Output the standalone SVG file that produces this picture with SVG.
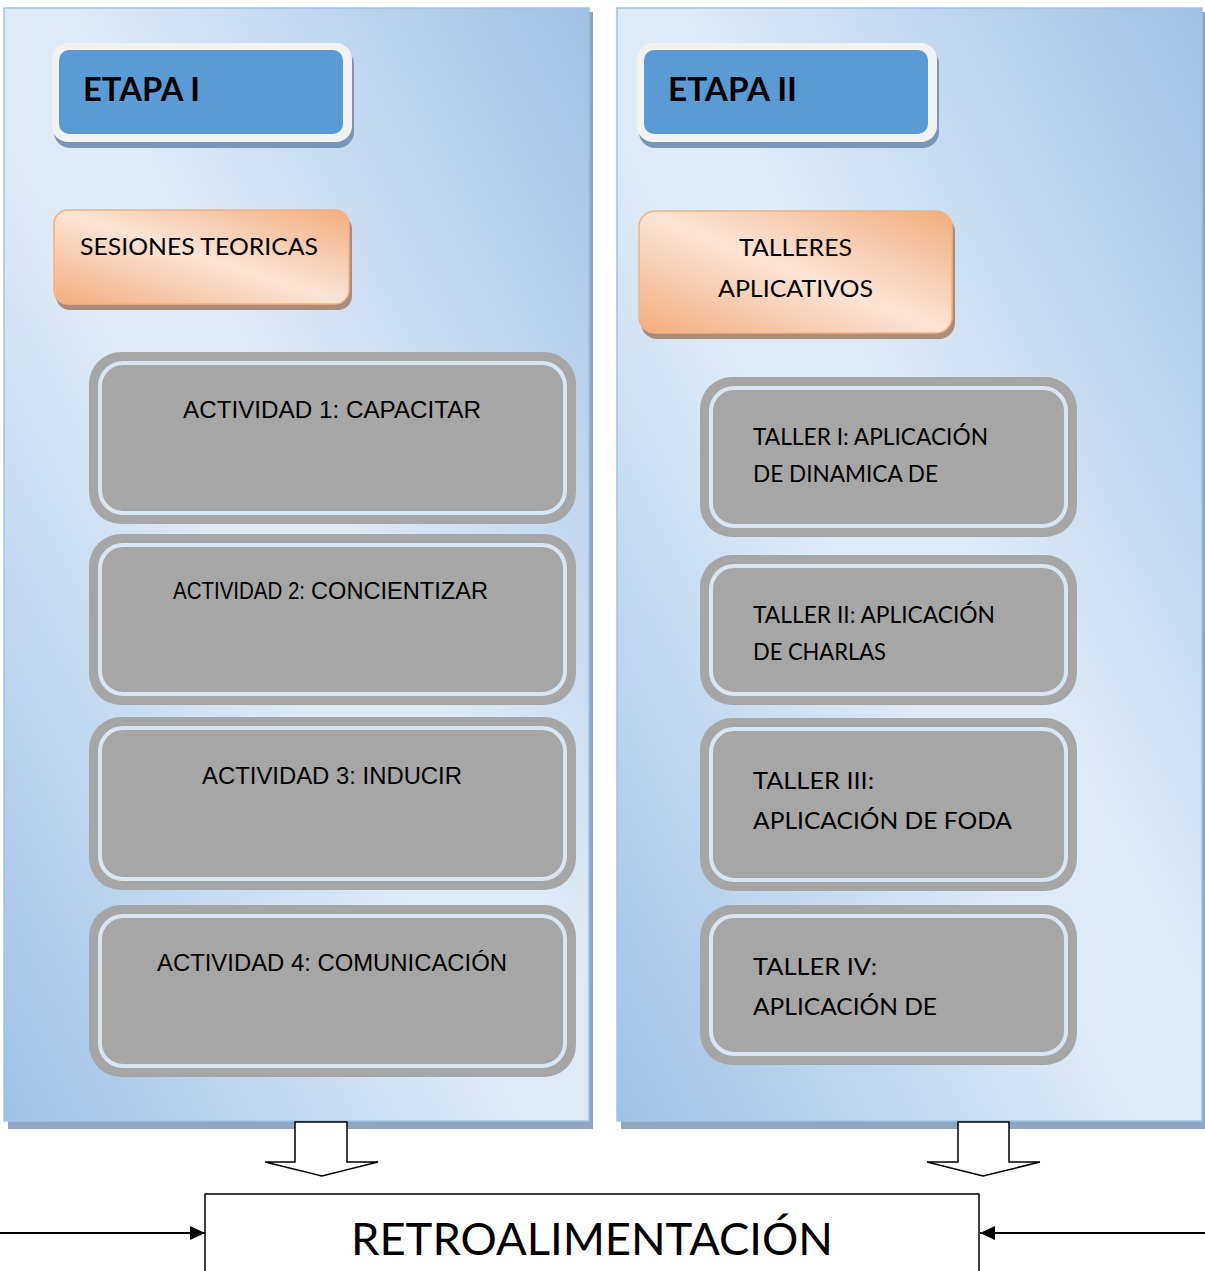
<svg xmlns="http://www.w3.org/2000/svg" width="1205" height="1271" viewBox="0 0 1205 1271">
<defs>
  <linearGradient id="panelGrad" x1="0" y1="1" x2="1" y2="0">
    <stop offset="0" stop-color="#9fc1e6"/>
    <stop offset="0.44" stop-color="#deeaf6"/>
    <stop offset="0.56" stop-color="#deeaf6"/>
    <stop offset="1" stop-color="#9fc1e6"/>
  </linearGradient>
  <linearGradient id="orangeGrad" x1="0" y1="1" x2="1" y2="0">
    <stop offset="0" stop-color="#f3ad7d"/>
    <stop offset="0.5" stop-color="#fbe4d5"/>
    <stop offset="1" stop-color="#f3ad7d"/>
  </linearGradient>
  <marker id="arrowHead" markerWidth="16" markerHeight="14" refX="15" refY="7" orient="auto" markerUnits="userSpaceOnUse">
    <path d="M0,0 L15,7 L0,14 Z" fill="#000"/>
  </marker>
</defs>
<style>
  .panel { fill: url(#panelGrad); stroke: #9dc3e6; stroke-width: 1.5; }
  .panelShadow { fill: #8ea6c2; }
  .etapaShadow { fill: #7a96b6; }
  .etapaOuter { fill: #f2f2f2; }
  .etapaInner { fill: #5b9bd5; }
  .etapaText { font-family: "Lato", "Liberation Sans", sans-serif; font-weight: bold; font-size: 32px; fill: #000; }
  .orangeShadow { fill: #a88c7c; }
  .orangeBox { fill: url(#orangeGrad); stroke: #f4b183; stroke-width: 1.5; }
  .calibri { font-family: "Lato", "Liberation Sans", sans-serif; font-size: 24px; fill: #000; }
  .taller { font-family: "Lato", "Liberation Sans", sans-serif; font-size: 23px; fill: #000; }
  .grayOuter { fill: #a6a6a6; }
  .grayLine { fill: none; stroke: #d8e6f4; stroke-width: 4; }
  .arial { font-family: "Liberation Sans", Arial, sans-serif; font-size: 23px; fill: #000; }
  .hollow { fill: #fff; stroke: #000; stroke-width: 1.5; }
  .conn { stroke: #000; stroke-width: 2; fill: none; }
  .retroBox { fill: #fff; stroke: #000; stroke-width: 1.5; }
  .retroText { font-family: "Lato", "Liberation Sans", sans-serif; font-size: 44px; fill: #000; }
</style>

<g id="panel-etapa-1">
  <rect class="panelShadow" x="8" y="12" width="585" height="1117"/>
  <rect class="panel" x="4" y="8" width="585" height="1113"/>
</g>
<g id="panel-etapa-2">
  <rect class="panelShadow" x="621" y="12" width="584" height="1117"/>
  <rect class="panel" x="617" y="8" width="585" height="1113"/>
</g>

<g id="etapa-1">
  <rect class="etapaShadow" x="54" y="48" width="300" height="100" rx="16"/>
  <rect class="etapaOuter" x="52" y="43" width="300" height="99" rx="16"/>
  <rect class="etapaInner" x="59" y="50" width="284" height="84" rx="10"/>
  <text class="etapaText" x="83" y="101" textLength="117" lengthAdjust="spacingAndGlyphs">ETAPA I</text>
</g>
<g id="etapa-2">
  <rect class="etapaShadow" x="639" y="48" width="300" height="100" rx="16"/>
  <rect class="etapaOuter" x="637" y="43" width="300" height="99" rx="16"/>
  <rect class="etapaInner" x="644" y="50" width="284" height="84" rx="10"/>
  <text class="etapaText" x="668" y="101" textLength="129" lengthAdjust="spacingAndGlyphs">ETAPA II</text>
</g>

<g id="sesiones-teoricas">
  <rect class="orangeShadow" x="56" y="215" width="296" height="95" rx="14"/>
  <rect class="orangeBox" x="54" y="210" width="295" height="94" rx="14"/>
  <text class="calibri" x="80" y="255" textLength="238" lengthAdjust="spacingAndGlyphs">SESIONES TEORICAS</text>
</g>
<g id="talleres-aplicativos">
  <rect class="orangeShadow" x="641" y="216" width="314" height="123" rx="16"/>
  <rect class="orangeBox" x="639" y="211" width="313" height="122" rx="16"/>
  <text class="calibri" x="739" y="256" textLength="113" lengthAdjust="spacingAndGlyphs">TALLERES</text>
  <text class="calibri" x="718" y="297" textLength="155" lengthAdjust="spacingAndGlyphs">APLICATIVOS</text>
</g>

<g id="actividad-1">
  <rect class="grayOuter" x="89" y="352" width="487" height="172" rx="32"/>
  <rect class="grayLine" x="100" y="363" width="465" height="150" rx="23"/>
  <text class="arial" x="183" y="418" textLength="298" lengthAdjust="spacingAndGlyphs">ACTIVIDAD 1: CAPACITAR</text>
</g>
<g id="actividad-2">
  <rect class="grayOuter" x="89" y="534" width="487" height="171" rx="32"/>
  <rect class="grayLine" x="100" y="545" width="465" height="149" rx="23"/>
  <text class="arial" x="173" y="599" font-size="19" textLength="132" lengthAdjust="spacingAndGlyphs">ACTIVIDAD 2:</text>
  <text class="arial" x="311" y="599" textLength="177" lengthAdjust="spacingAndGlyphs">CONCIENTIZAR</text>
</g>
<g id="actividad-3">
  <rect class="grayOuter" x="89" y="717" width="487" height="173" rx="32"/>
  <rect class="grayLine" x="100" y="728" width="465" height="151" rx="23"/>
  <text class="arial" x="202" y="784" textLength="260" lengthAdjust="spacingAndGlyphs">ACTIVIDAD 3: INDUCIR</text>
</g>
<g id="actividad-4">
  <rect class="grayOuter" x="89" y="905" width="487" height="172" rx="32"/>
  <rect class="grayLine" x="100" y="916" width="465" height="150" rx="23"/>
  <text class="arial" x="157" y="971" textLength="350" lengthAdjust="spacingAndGlyphs">ACTIVIDAD 4: COMUNICACIÓN</text>
</g>

<g id="taller-1">
  <rect class="grayOuter" x="700" y="377" width="377" height="160" rx="32"/>
  <rect class="grayLine" x="711" y="388" width="355" height="138" rx="23"/>
  <text class="taller" x="753" y="445" textLength="235" lengthAdjust="spacingAndGlyphs">TALLER I: APLICACIÓN</text>
  <text class="taller" x="753" y="482" textLength="185" lengthAdjust="spacingAndGlyphs">DE DINAMICA DE</text>
</g>
<g id="taller-2">
  <rect class="grayOuter" x="700" y="555" width="377" height="150" rx="32"/>
  <rect class="grayLine" x="711" y="566" width="355" height="128" rx="23"/>
  <text class="taller" x="753" y="623" textLength="242" lengthAdjust="spacingAndGlyphs">TALLER II: APLICACIÓN</text>
  <text class="taller" x="753" y="660" textLength="133" lengthAdjust="spacingAndGlyphs">DE CHARLAS</text>
</g>
<g id="taller-3">
  <rect class="grayOuter" x="700" y="718" width="377" height="173" rx="32"/>
  <rect class="grayLine" x="711" y="729" width="355" height="151" rx="23"/>
  <text class="taller" x="753" y="789" textLength="121" lengthAdjust="spacingAndGlyphs">TALLER III:</text>
  <text class="taller" x="753" y="829" textLength="259" lengthAdjust="spacingAndGlyphs">APLICACIÓN DE FODA</text>
</g>
<g id="taller-4">
  <rect class="grayOuter" x="700" y="905" width="377" height="160" rx="32"/>
  <rect class="grayLine" x="711" y="916" width="355" height="138" rx="23"/>
  <text class="taller" x="753" y="975" textLength="124" lengthAdjust="spacingAndGlyphs">TALLER IV:</text>
  <text class="taller" x="753" y="1015" textLength="184" lengthAdjust="spacingAndGlyphs">APLICACIÓN DE</text>
</g>

<g id="retroalimentacion">
  <rect class="retroBox" x="205" y="1194" width="774" height="100"/>
  <text class="retroText" x="351" y="1255" textLength="482" lengthAdjust="spacingAndGlyphs">RETROALIMENTACIÓN</text>
</g>

<g id="connectors">
  <polygon class="hollow" points="295,1122 347,1122 347,1162 378,1162 322,1176 265,1162 295,1162"/>
  <polygon class="hollow" points="958,1122 1009,1122 1009,1162 1040,1162 983,1176 927,1162 958,1162"/>
  <line class="conn" x1="0" y1="1233" x2="205" y2="1233" marker-end="url(#arrowHead)"/>
  <line class="conn" x1="1205" y1="1233" x2="980" y2="1233" marker-end="url(#arrowHead)"/>
</g>
</svg>
